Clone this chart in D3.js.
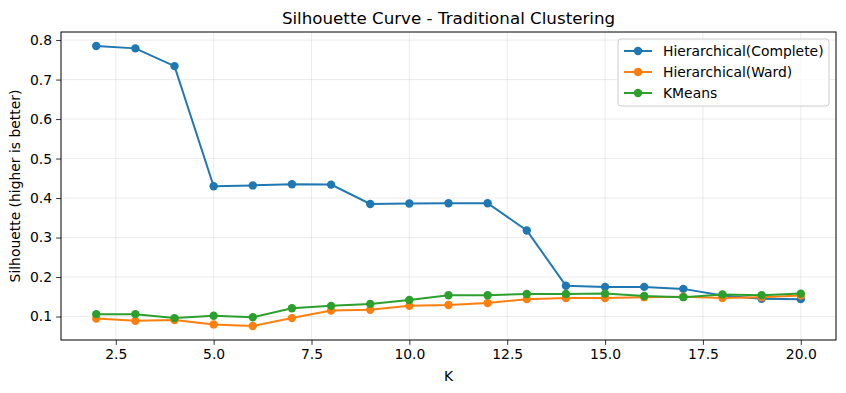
<!DOCTYPE html>
<html>
<head>
<meta charset="utf-8">
<script src="https://cdn.jsdelivr.net/npm/d3@7"></script>
<style>
  body { margin: 0; background: #fff; }
  text { font-family: "DejaVu Sans", sans-serif; fill: #000; }
</style>
</head>
<body>
<div id="chart"></div>
<script>
const ks = [2, 3, 4, 5, 6, 7, 8, 9, 10, 11, 12, 13, 14, 15, 16, 17, 18, 19, 20];
const complete = [0.785, 0.779, 0.734, 0.430, 0.432, 0.435, 0.434, 0.385, 0.386, 0.387, 0.387, 0.318, 0.178, 0.175, 0.175, 0.170, 0.153, 0.145, 0.144];
const ward = [0.095, 0.089, 0.091, 0.080, 0.076, 0.096, 0.115, 0.117, 0.127, 0.129, 0.134, 0.144, 0.147, 0.147, 0.149, 0.150, 0.147, 0.149, 0.153];
const kmeans = [0.106, 0.106, 0.096, 0.102, 0.098, 0.121, 0.127, 0.132, 0.142, 0.154, 0.154, 0.157, 0.157, 0.158, 0.152, 0.149, 0.156, 0.154, 0.158];
const seriesNames = ['Hierarchical(Complete)', 'Hierarchical(Ward)', 'KMeans'];
const colors = ['#1f77b4', '#ff7f0e', '#2ca02c'];
const xTicks = [2.5, 5.0, 7.5, 10.0, 12.5, 15.0, 17.5, 20.0];
const yTicks = [0.1, 0.2, 0.3, 0.4, 0.5, 0.6, 0.7, 0.8];

const width = 846, height = 393;
const margin = { top: 32, right: 10, bottom: 53, left: 61 };

const series = [complete, ward, kmeans].map(function(vals, i) {
  return { name: seriesNames[i], color: colors[i], values: ks.map(function(k, j) { return { k: k, v: vals[j] }; }) };
});

const svg = d3.select('#chart').append('svg')
  .attr('width', width)
  .attr('height', height);

const x = d3.scaleLinear()
  .domain([1.1, 20.9])
  .range([margin.left, width - margin.right]);

const allV = complete.concat(ward, kmeans);
const yMin = d3.min(allV), yMax = d3.max(allV), pad = (yMax - yMin) * 0.05;
const y = d3.scaleLinear()
  .domain([yMin - pad, yMax + pad])
  .range([height - margin.bottom, margin.top]);

// grid
svg.append('g')
  .selectAll('line.gx')
  .data(xTicks)
  .enter().append('line')
  .attr('x1', function(d) { return x(d); })
  .attr('x2', function(d) { return x(d); })
  .attr('y1', margin.top)
  .attr('y2', height - margin.bottom)
  .style('stroke', '#b0b0b0')
  .style('stroke-opacity', 0.3)
  .style('stroke-width', 0.8);

svg.append('g')
  .selectAll('line.gy')
  .data(yTicks)
  .enter().append('line')
  .attr('x1', margin.left)
  .attr('x2', width - margin.right)
  .attr('y1', function(d) { return y(d); })
  .attr('y2', function(d) { return y(d); })
  .style('stroke', '#b0b0b0')
  .style('stroke-opacity', 0.3)
  .style('stroke-width', 0.8);

// axes
const xAxis = svg.append('g')
  .attr('transform', 'translate(0,' + (height - margin.bottom) + ')')
  .call(d3.axisBottom(x).tickValues(xTicks).tickFormat(d3.format('.1f')).tickSizeOuter(0).tickSize(4.9).tickPadding(4));
const yAxis = svg.append('g')
  .attr('transform', 'translate(' + margin.left + ',0)')
  .call(d3.axisLeft(y).tickValues(yTicks).tickFormat(d3.format('.1f')).tickSizeOuter(0).tickSize(4.9).tickPadding(4));

[xAxis, yAxis].forEach(function(a) {
  a.select('.domain').remove();
  a.selectAll('text').style('font-size', '13.9px').style('font-family', '"DejaVu Sans", sans-serif');
  a.selectAll('line').style('stroke', '#000').style('stroke-width', 0.8);
});

svg.append('rect')
  .attr('x', margin.left)
  .attr('y', margin.top)
  .attr('width', width - margin.left - margin.right)
  .attr('height', height - margin.top - margin.bottom)
  .style('fill', 'none')
  .style('stroke', '#000')
  .style('stroke-width', 1);

// lines
const line = d3.line()
  .x(function(d) { return x(d.k); })
  .y(function(d) { return y(d.v); });

const g = svg.selectAll('g.series')
  .data(series)
  .enter().append('g')
  .attr('class', 'series');

g.append('path')
  .attr('d', function(d) { return line(d.values); })
  .style('fill', 'none')
  .style('stroke', function(d) { return d.color; })
  .style('stroke-width', 2);

g.selectAll('circle')
  .data(function(d) { return d.values.map(function(p) { return { k: p.k, v: p.v, color: d.color }; }); })
  .enter().append('circle')
  .attr('cx', function(d) { return x(d.k); })
  .attr('cy', function(d) { return y(d.v); })
  .attr('r', 4.2)
  .style('fill', function(d) { return d.color; });

// title and labels
svg.append('text')
  .attr('x', (margin.left + width - margin.right) / 2)
  .attr('y', 24)
  .attr('text-anchor', 'middle')
  .style('font-size', '16.7px')
  .text('Silhouette Curve - Traditional Clustering');

svg.append('text')
  .attr('x', (margin.left + width - margin.right) / 2)
  .attr('y', 381)
  .attr('text-anchor', 'middle')
  .style('font-size', '13.9px')
  .text('K');

svg.append('text')
  .attr('transform', 'translate(20,' + ((margin.top + height - margin.bottom) / 2) + ') rotate(-90)')
  .attr('text-anchor', 'middle')
  .style('font-size', '13.9px')
  .text('Silhouette (higher is better)');

// legend
const legend = svg.append('g').attr('transform', 'translate(618,39)');
legend.append('rect')
  .attr('width', 211)
  .attr('height', 67)
  .attr('rx', 3)
  .style('fill', '#fff')
  .style('fill-opacity', 0.8)
  .style('stroke', '#ccc')
  .style('stroke-width', 1);

const item = legend.selectAll('g.item')
  .data(series)
  .enter().append('g')
  .attr('class', 'item')
  .attr('transform', function(d, i) { return 'translate(0,' + (12 + i * 21) + ')'; });

item.append('line')
  .attr('x1', 6).attr('x2', 34)
  .style('stroke', function(d) { return d.color; })
  .style('stroke-width', 2);
item.append('circle')
  .attr('cx', 20)
  .attr('r', 4.2)
  .style('fill', function(d) { return d.color; });
item.append('text')
  .attr('x', 45)
  .attr('dy', '0.35em')
  .style('font-size', '13.9px')
  .text(function(d) { return d.name; });
</script>
</body>
</html>
